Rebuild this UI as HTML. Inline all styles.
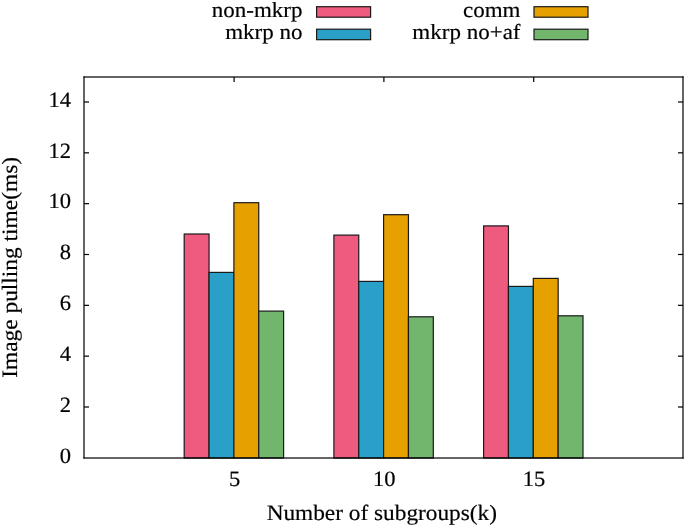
<!DOCTYPE html>
<html><head><meta charset="utf-8"><style>
html,body{margin:0;padding:0;background:#fff;}
svg{display:block;will-change:transform;}
text{font-family:"Liberation Serif",serif;fill:#000;text-rendering:geometricPrecision;stroke:#000;stroke-width:0.2px;}
.ln{fill:#000;}
.b{stroke:#1a1a1a;stroke-width:1.2;}
</style></head><body>
<svg width="685" height="526" viewBox="0 0 685 526">
<rect x="184.20" y="234.00" width="24.85" height="224.00" fill="#EF5A7F" class="b"/>
<rect x="209.05" y="272.40" width="24.85" height="185.60" fill="#2AA0C8" class="b"/>
<rect x="233.90" y="202.70" width="24.85" height="255.30" fill="#E6A000" class="b"/>
<rect x="258.75" y="311.10" width="24.85" height="146.90" fill="#72B66E" class="b"/>
<rect x="333.90" y="235.10" width="24.85" height="222.90" fill="#EF5A7F" class="b"/>
<rect x="358.75" y="281.40" width="24.85" height="176.60" fill="#2AA0C8" class="b"/>
<rect x="383.60" y="214.70" width="24.85" height="243.30" fill="#E6A000" class="b"/>
<rect x="408.45" y="316.80" width="24.85" height="141.20" fill="#72B66E" class="b"/>
<rect x="483.60" y="225.90" width="24.85" height="232.10" fill="#EF5A7F" class="b"/>
<rect x="508.45" y="286.40" width="24.85" height="171.60" fill="#2AA0C8" class="b"/>
<rect x="533.30" y="278.40" width="24.85" height="179.60" fill="#E6A000" class="b"/>
<rect x="558.15" y="315.80" width="24.85" height="142.20" fill="#72B66E" class="b"/>
<text transform="translate(71.00,462.63) scale(1,0.97)" font-size="22.5" text-anchor="end">0</text>
<text transform="translate(71.00,411.80) scale(1,0.97)" font-size="22.5" text-anchor="end">2</text>
<text transform="translate(71.00,360.96) scale(1,0.97)" font-size="22.5" text-anchor="end">4</text>
<text transform="translate(71.00,310.13) scale(1,0.97)" font-size="22.5" text-anchor="end">6</text>
<text transform="translate(71.00,259.29) scale(1,0.97)" font-size="22.5" text-anchor="end">8</text>
<text transform="translate(71.00,208.46) scale(1,0.97)" font-size="22.5" text-anchor="end">10</text>
<text transform="translate(71.00,157.63) scale(1,0.97)" font-size="22.5" text-anchor="end">12</text>
<text transform="translate(71.00,106.79) scale(1,0.97)" font-size="22.5" text-anchor="end">14</text>
<rect x="84.00" y="406.40" width="5.00" height="1.2" class="ln"/>
<rect x="678.00" y="406.40" width="5.00" height="1.2" class="ln"/>
<rect x="84.00" y="355.56" width="5.00" height="1.2" class="ln"/>
<rect x="678.00" y="355.56" width="5.00" height="1.2" class="ln"/>
<rect x="84.00" y="304.73" width="5.00" height="1.2" class="ln"/>
<rect x="678.00" y="304.73" width="5.00" height="1.2" class="ln"/>
<rect x="84.00" y="253.89" width="5.00" height="1.2" class="ln"/>
<rect x="678.00" y="253.89" width="5.00" height="1.2" class="ln"/>
<rect x="84.00" y="203.06" width="5.00" height="1.2" class="ln"/>
<rect x="678.00" y="203.06" width="5.00" height="1.2" class="ln"/>
<rect x="84.00" y="152.23" width="5.00" height="1.2" class="ln"/>
<rect x="678.00" y="152.23" width="5.00" height="1.2" class="ln"/>
<rect x="84.00" y="101.39" width="5.00" height="1.2" class="ln"/>
<rect x="678.00" y="101.39" width="5.00" height="1.2" class="ln"/>
<rect x="233.50" y="77.00" width="1.2" height="5.00" class="ln"/>
<rect x="383.30" y="77.00" width="1.2" height="5.00" class="ln"/>
<rect x="533.10" y="77.00" width="1.2" height="5.00" class="ln"/>
<rect x="83.40" y="76.40" width="600.20" height="1.2" class="ln"/>
<rect x="83.40" y="457.40" width="600.20" height="1.2" class="ln"/>
<rect x="83.40" y="76.40" width="1.2" height="382.20" class="ln"/>
<rect x="682.40" y="76.40" width="1.2" height="382.20" class="ln"/>
<text transform="translate(234.50,486.00) scale(1,0.97)" font-size="22.5" text-anchor="middle">5</text>
<text transform="translate(384.30,486.00) scale(1,0.97)" font-size="22.5" text-anchor="middle">10</text>
<text transform="translate(534.10,486.00) scale(1,0.97)" font-size="22.5" text-anchor="middle">15</text>
<text transform="translate(381.80,519.60) scale(1,0.94)" font-size="23.3" text-anchor="middle">Number of subgroups(k)</text>
<text transform="translate(17.20,267.40) rotate(-90) scale(1,0.94)" font-size="23.4" text-anchor="middle">Image pulling time(ms)</text>
<text transform="translate(302.50,17.30) scale(1,0.94)" font-size="23" text-anchor="end">non-mkrp</text>
<rect x="316.6" y="6.7" width="54" height="10.5" fill="#EF5A7F" class="b"/>
<text transform="translate(302.50,39.30) scale(1,0.94)" font-size="23" text-anchor="end">mkrp no</text>
<rect x="316.6" y="29.2" width="54" height="10.5" fill="#2AA0C8" class="b"/>
<text transform="translate(520.50,17.30) scale(1,0.94)" font-size="23" text-anchor="end">comm</text>
<rect x="534" y="6.7" width="54" height="10.5" fill="#E6A000" class="b"/>
<text transform="translate(520.50,39.30) scale(1,0.94)" font-size="23" text-anchor="end">mkrp no+af</text>
<rect x="534" y="29.2" width="54" height="10.5" fill="#72B66E" class="b"/>
</svg>
</body></html>
